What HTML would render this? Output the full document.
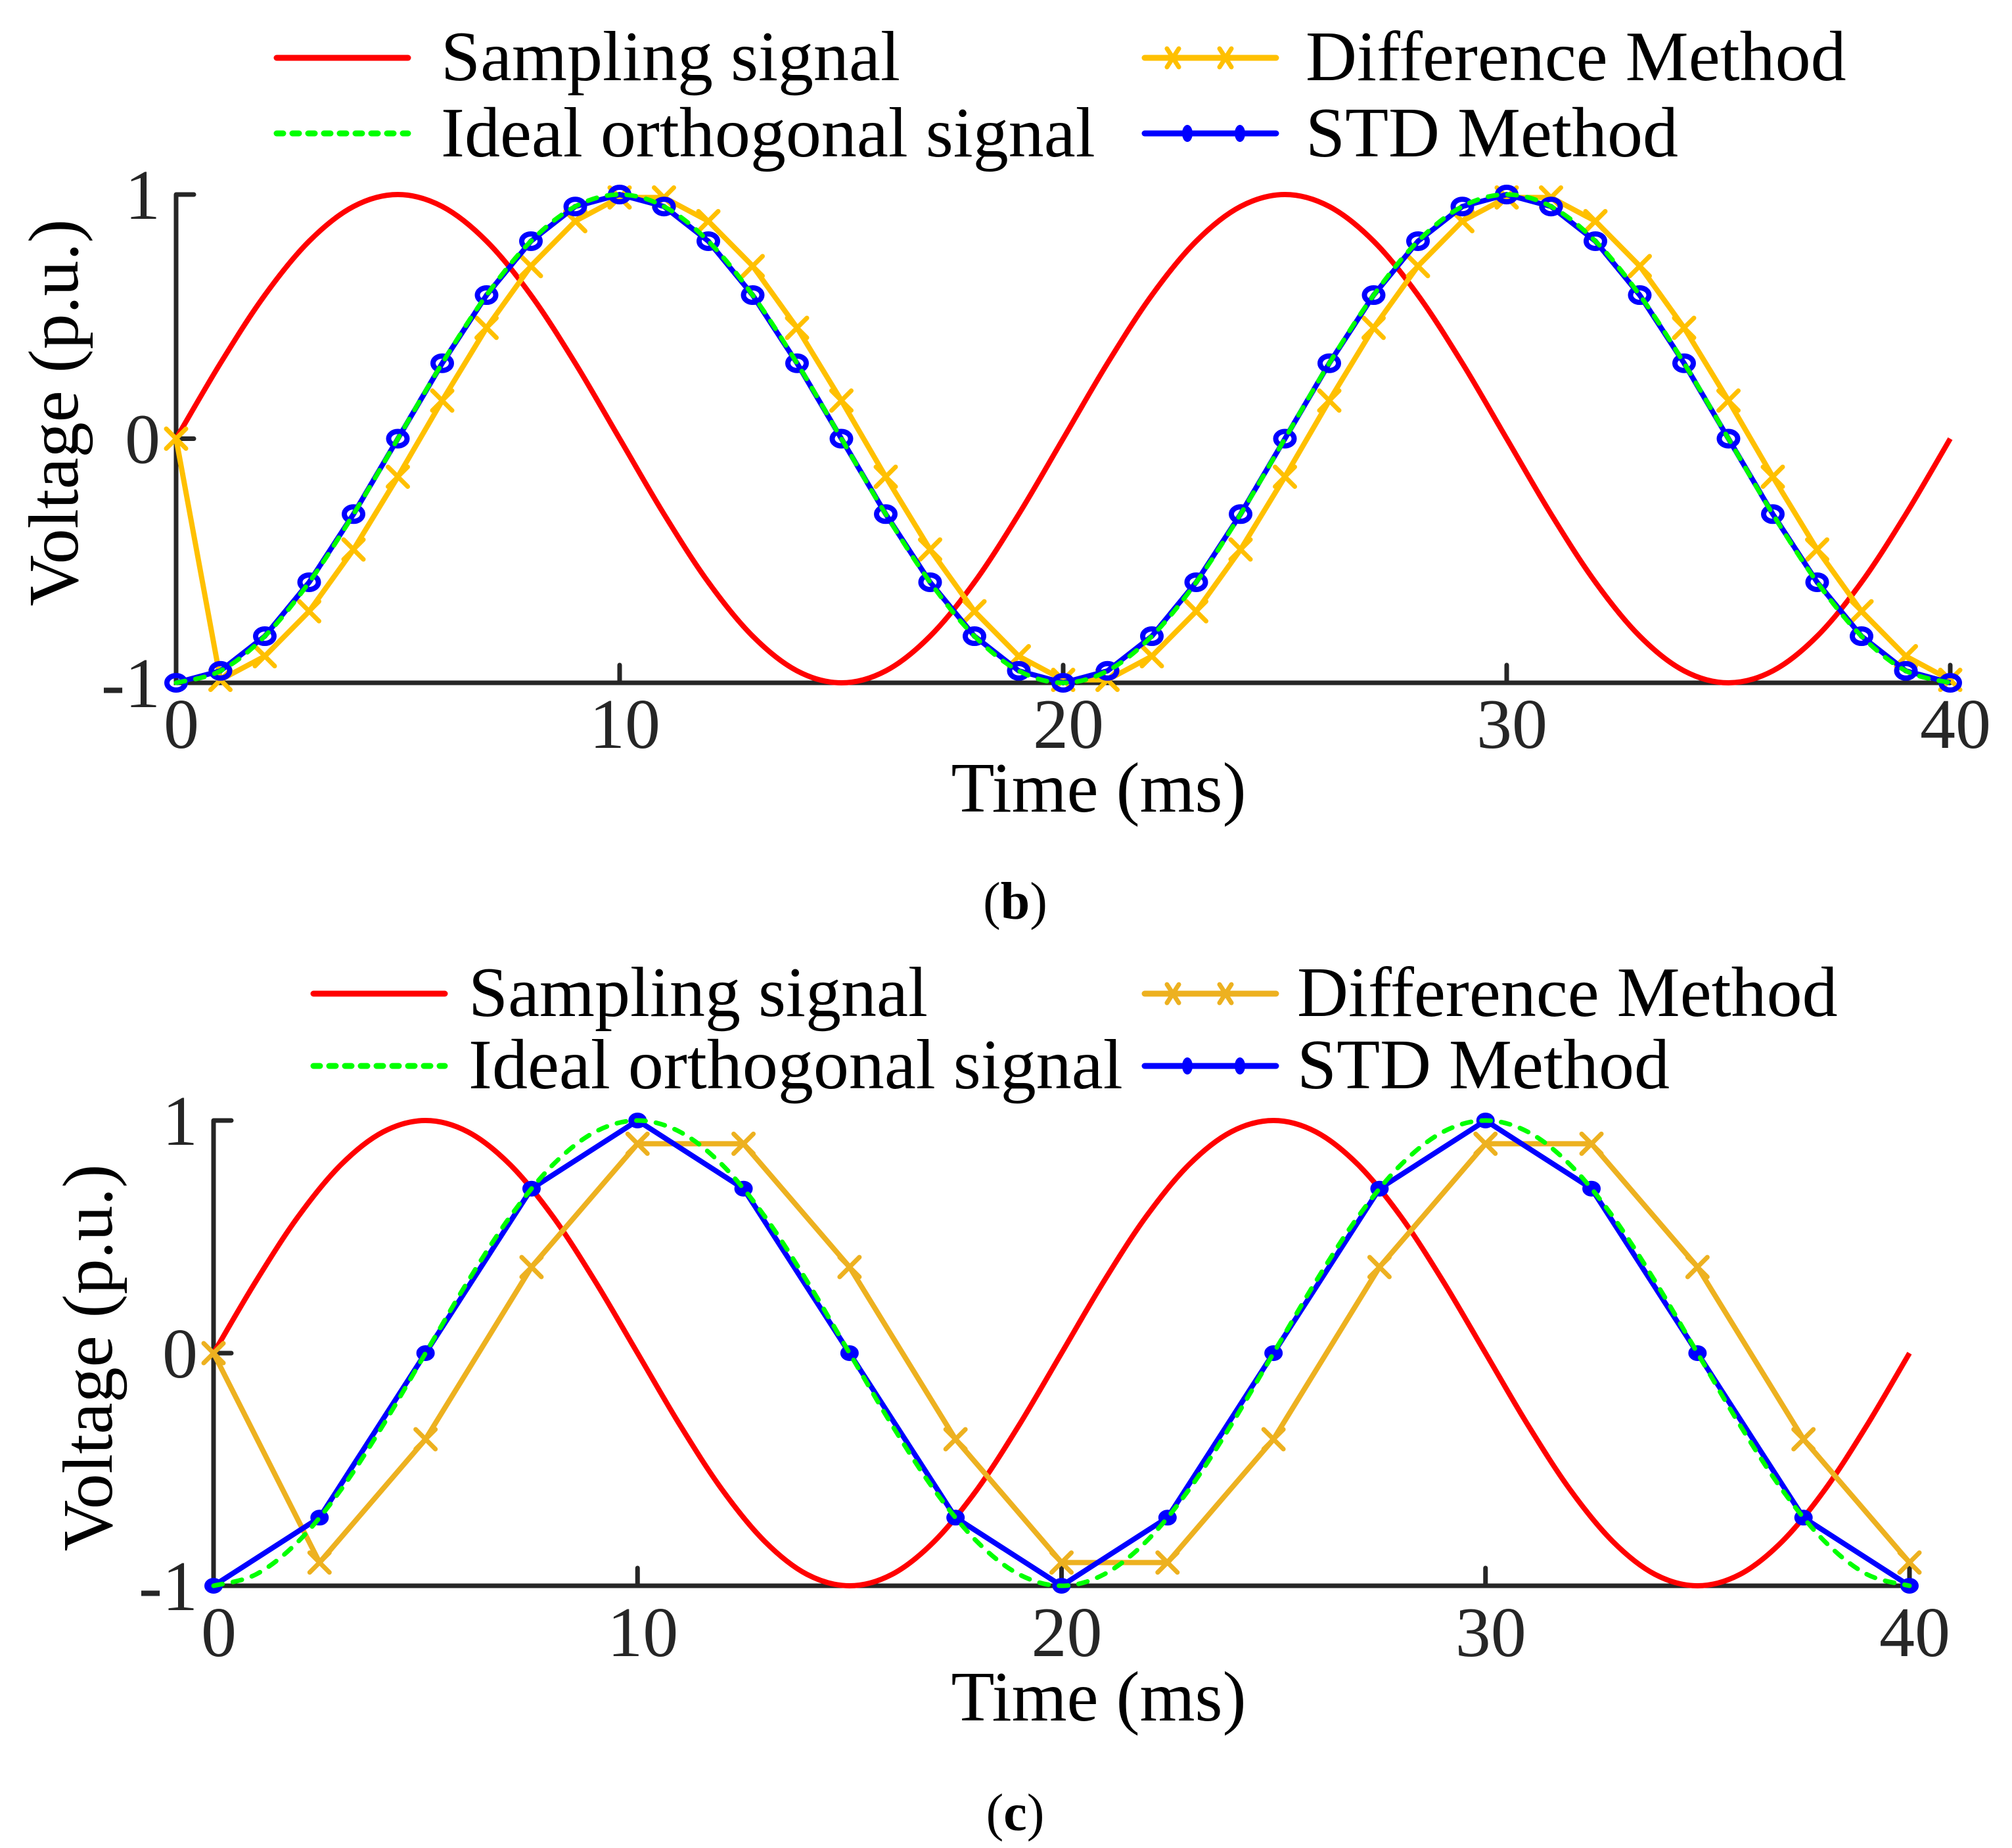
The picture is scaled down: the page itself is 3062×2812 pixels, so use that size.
<!DOCTYPE html>
<html><head><meta charset="utf-8">
<style>
html,body{margin:0;padding:0;background:#fff;}
svg{display:block;}
text{font-family:"Liberation Serif","Times New Roman",serif;}
</style></head>
<body>
<svg id="fig" width="3062" height="2812" viewBox="0 0 3062 2812" xmlns="http://www.w3.org/2000/svg"></svg>
<script>
// ---- Data: panel (b), 1 ms step ----
const timesB = [0,1,2,3,4,5,6,7,8,9,10,11,12,13,14,15,16,17,18,19,20,21,22,23,24,25,26,27,28,29,30,31,32,33,34,35,36,37,38,39,40];
const samplingB = [0,0.309,0.588,0.809,0.951,1,0.951,0.809,0.588,0.309,0,-0.309,-0.588,-0.809,-0.951,-1,-0.951,-0.809,-0.588,-0.309,0,0.309,0.588,0.809,0.951,1,0.951,0.809,0.588,0.309,0,-0.309,-0.588,-0.809,-0.951,-1,-0.951,-0.809,-0.588,-0.309,0];
const idealB = [-1,-0.951,-0.809,-0.588,-0.309,0,0.309,0.588,0.809,0.951,1,0.951,0.809,0.588,0.309,0,-0.309,-0.588,-0.809,-0.951,-1,-0.951,-0.809,-0.588,-0.309,0,0.309,0.588,0.809,0.951,1,0.951,0.809,0.588,0.309,0,-0.309,-0.588,-0.809,-0.951,-1];
const stdB = [-1,-0.951,-0.809,-0.588,-0.309,0,0.309,0.588,0.809,0.951,1,0.951,0.809,0.588,0.309,0,-0.309,-0.588,-0.809,-0.951,-1,-0.951,-0.809,-0.588,-0.309,0,0.309,0.588,0.809,0.951,1,0.951,0.809,0.588,0.309,0,-0.309,-0.588,-0.809,-0.951,-1];
const diffB = [0,-0.988,-0.891,-0.707,-0.454,-0.156,0.156,0.454,0.707,0.891,0.988,0.988,0.891,0.707,0.454,0.156,-0.156,-0.454,-0.707,-0.891,-0.988,-0.988,-0.891,-0.707,-0.454,-0.156,0.156,0.454,0.707,0.891,0.988,0.988,0.891,0.707,0.454,0.156,-0.156,-0.454,-0.707,-0.891,-0.988];
// ---- Data: panel (c), 2.5 ms step for methods ----
const timesC = [0,2.5,5,7.5,10,12.5,15,17.5,20,22.5,25,27.5,30,32.5,35,37.5,40];
const stdC = [-1,-0.707,0,0.707,1,0.707,0,-0.707,-1,-0.707,0,0.707,1,0.707,0,-0.707,-1];
const diffC = [0,-0.9,-0.37,0.37,0.9,0.9,0.37,-0.37,-0.9,-0.9,-0.37,0.37,0.9,0.9,0.37,-0.37,-0.9];
const xTicks = [0,10,20,30,40];
const yTicks = [-1,0,1];
const xTickLabels = ["0","10","20","30","40"];
const yTickLabels = ["-1","0","1"];

const NS="http://www.w3.org/2000/svg";
const FONT='"Liberation Serif", "Times New Roman", serif';
const svg=document.getElementById('fig');
function mk(tag,attrs,parent){const e=document.createElementNS(NS,tag);for(const k in attrs)e.setAttribute(k,attrs[k]);if(tag==='text')e.setAttribute('font-family',FONT);(parent||svg).appendChild(e);return e;}

function smoothPath(pts){
  let d='M'+pts[0][0].toFixed(1)+','+pts[0][1].toFixed(1);
  for(let i=0;i<pts.length-1;i++){
    const p0=pts[Math.max(0,i-1)],p1=pts[i],p2=pts[i+1],p3=pts[Math.min(pts.length-1,i+2)];
    const c1=[p1[0]+(p2[0]-p0[0])/6,p1[1]+(p2[1]-p0[1])/6];
    const c2=[p2[0]-(p3[0]-p1[0])/6,p2[1]-(p3[1]-p1[1])/6];
    d+=' C'+c1[0].toFixed(1)+','+c1[1].toFixed(1)+' '+c2[0].toFixed(1)+','+c2[1].toFixed(1)+' '+p2[0].toFixed(1)+','+p2[1].toFixed(1);
  }
  return d;
}
function polyPath(pts){return 'M'+pts.map(p=>p[0].toFixed(1)+','+p[1].toFixed(1)).join(' L');}

function panel(cfg){
  const g=mk('g',{});
  
  
  const sx=v=>cfg.x0+(v-0)/(40-0)*(cfg.x1-cfg.x0);
  const sy=v=>cfg.yb+(v-(-1))/(1-(-1))*(cfg.yt-cfg.yb);
  const ax=mk('path',{d:`M${cfg.x0},${cfg.yt} L${cfg.x0},${cfg.yb} L${cfg.x1},${cfg.yb}`,fill:'none',stroke:'#262626','stroke-width':7,'stroke-linecap':'butt'},g);
  
  
  xTicks.forEach((t,i)=>{
    const tk=mk('line',{x1:sx(t),x2:sx(t),y1:cfg.yb,y2:cfg.yb-27,stroke:'#262626','stroke-width':7,'stroke-linecap':'round'},g);
    
    
    const tl=mk('text',{x:sx(t)+8,y:cfg.xLabelY,'font-size':108,'text-anchor':'middle',fill:'#262626'},g);
    tl.textContent=xTickLabels[i];
    
    
  });
  yTicks.forEach((t,i)=>{
    const tk=mk('line',{x1:cfg.x0,x2:cfg.x0+27,y1:sy(t),y2:sy(t),stroke:'#262626','stroke-width':7,'stroke-linecap':'round'},g);
    
    
    const tl=mk('text',{x:cfg.x0-24,y:sy(t)+37,'font-size':108,'text-anchor':'end',fill:'#262626'},g);
    tl.textContent=yTickLabels[i];
    
    
  });
  const samp=cfg.sampT.map((t,i)=>[sx(t),sy(cfg.samp[i])]);
  const s1=mk('path',{d:smoothPath(samp),fill:'none',stroke:'#ff0000','stroke-width':8},g);
  
  
  const ideal=cfg.sampT.map((t,i)=>[sx(t),sy(cfg.ideal[i])]);
  const diff=cfg.methT.map((t,i)=>[sx(t),sy(cfg.diff[i])]);
  const s3=mk('path',{d:polyPath(diff),fill:'none',stroke:cfg.orange,'stroke-width':8,'stroke-linejoin':'round'},g);
  
  
  diff.forEach(p=>{
    const m=mk('path',{d:`M${p[0]-15},${p[1]-15} L${p[0]+15},${p[1]+15} M${p[0]-15},${p[1]+15} L${p[0]+15},${p[1]-15}`,stroke:cfg.orange,'stroke-width':7,'stroke-linecap':'round',fill:'none'},g);
    
    
  });
  const std=cfg.methT.map((t,i)=>[sx(t),sy(cfg.std[i])]);
  const s4=mk('path',{d:polyPath(std),fill:'none',stroke:'#0000ff','stroke-width':8,'stroke-linejoin':'round'},g);
  
  
  std.forEach(p=>{
    const m=mk('ellipse',{cx:p[0],cy:p[1],rx:cfg.filled?13:14,ry:cfg.filled?11:11,fill:cfg.filled?'#0000ff':'none',stroke:'#0000ff','stroke-width':cfg.filled?2:8},g);
    
    
  });
  const s2=mk('path',{d:smoothPath(ideal),fill:'none',stroke:'#00ff00','stroke-width':7,'stroke-dasharray':'14 16','stroke-linecap':'round'},g);
  
  
  const xt=mk('text',{x:cfg.xTitleX,y:cfg.xTitleY,'font-size':108,'text-anchor':'middle',fill:'#000'},g);
  xt.textContent='Time (ms)';
  
  
  const yt=mk('text',{x:0,y:0,'font-size':108,'text-anchor':'middle',fill:'#000',transform:`translate(${cfg.yTitleX},${cfg.yTitleY}) rotate(-90)`},g);
  yt.textContent='Voltage (p.u.)';
  
  
  const L=cfg.leg;
  const lg=mk('g',{},g);
  
  
  const e1=mk('line',{x1:L.lx1,x2:L.lx1+200,y1:L.y1,y2:L.y1,stroke:'#ff0000','stroke-width':9,'stroke-linecap':'round'},lg);
  
  
  const e2=mk('line',{x1:L.lx1,x2:L.lx1+200,y1:L.y2,y2:L.y2,stroke:'#00ff00','stroke-width':9,'stroke-dasharray':'10 14','stroke-linecap':'round'},lg);
  
  
  const e3=mk('line',{x1:L.lx2,x2:L.lx2+200,y1:L.y1,y2:L.y1,stroke:cfg.orange,'stroke-width':9,'stroke-linecap':'round'},lg);
  
  
  [L.lx2+43,L.lx2+123].forEach(x=>{
    const m=mk('path',{d:`M${x-9},${L.y1-14} L${x+9},${L.y1+14} M${x-9},${L.y1+14} L${x+9},${L.y1-14}`,stroke:cfg.orange,'stroke-width':7,'stroke-linecap':'round'},lg);
    
    
  });
  const e4=mk('line',{x1:L.lx2,x2:L.lx2+200,y1:L.y2,y2:L.y2,stroke:'#0000ff','stroke-width':9,'stroke-linecap':'round'},lg);
  
  
  [L.lx2+65,L.lx2+145].forEach(x=>{
    const m=mk('ellipse',{cx:x,cy:L.y2,rx:8,ry:13,fill:'#0000ff'},lg);
    
    
  });
  const labs=[['Sampling signal',L.tx1,L.b1],['Ideal orthogonal signal',L.tx1,L.b2],['Difference Method',L.tx2,L.b1],['STD Method',L.tx2,L.b2]];
  labs.forEach(a=>{
    const t=mk('text',{x:a[1],y:a[2],'font-size':108,fill:'#000'},lg);
    t.textContent=a[0];
    
    
  });
  const cap=mk('text',{x:1545,y:cfg.capY,'font-size':80,'text-anchor':'middle',fill:'#000'},g);
  cap.innerHTML='(<tspan font-weight="bold">'+cfg.cap+'</tspan>)';
  
  
}

panel({name:'panel-b',x0:268,x1:2968,yt:296,yb:1039,xLabelY:1138,
  sampT:timesB,samp:samplingB,ideal:idealB,methT:timesB,diff:diffB,std:stdB,
  orange:'#ffc000',filled:false,xTitleX:1672,xTitleY:1235,yTitleX:118,yTitleY:628,
  leg:{lx1:421,lx2:1742,y1:88,y2:203,tx1:671,tx2:1987,b1:122,b2:238},capY:1398,cap:'b'});
panel({name:'panel-c',x0:325,x1:2906,yt:1705,yb:2413,xLabelY:2520,
  sampT:timesB,samp:samplingB,ideal:idealB,methT:timesC,diff:diffC,std:stdC,
  orange:'#edb120',filled:true,xTitleX:1672,xTitleY:2618,yTitleX:170,yTitleY:2066,
  leg:{lx1:477,lx2:1742,y1:1512,y2:1622,tx1:713,tx2:1974,b1:1546,b2:1656},capY:2785,cap:'c'});
</script>
</body></html>
